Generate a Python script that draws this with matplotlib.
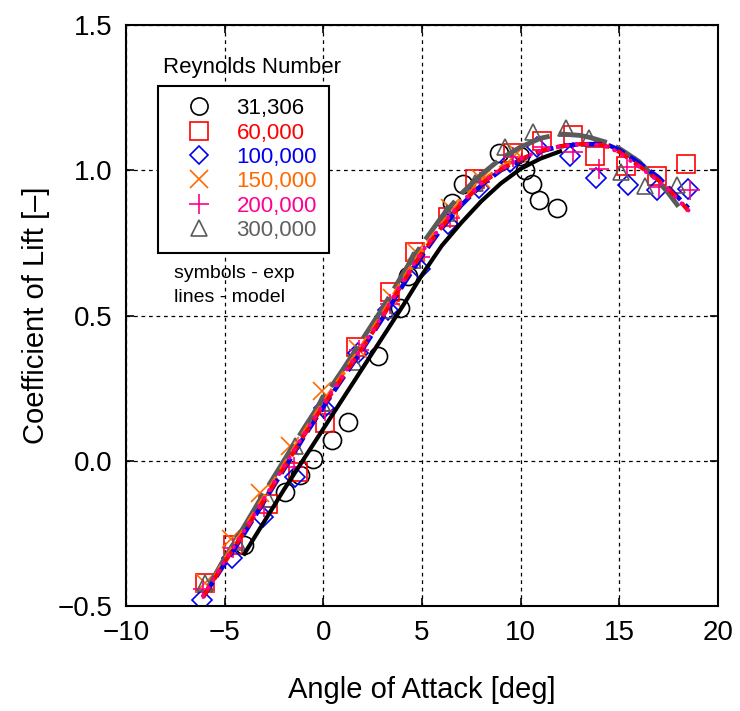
import matplotlib
matplotlib.use("Agg")
import matplotlib.pyplot as plt
from matplotlib.lines import Line2D

plt.rcParams['font.family'] = ['Liberation Sans', 'DejaVu Sans']

# ---------------- experimental data ----------------
re_labels = ["31,306", "60,000", "100,000", "150,000", "200,000", "300,000"]

x_31k = [-4.0, -1.95, -1.2, -0.5, 0.42, 1.23, 2.75, 3.87, 4.3, 6.5, 7.1, 8.92, 9.96, 10.2, 10.55, 10.95, 11.85]
y_31k = [-0.29, -0.107, -0.05, 0.005, 0.07, 0.134, 0.36, 0.525, 0.635, 0.888, 0.952, 1.058, 1.049, 1.0, 0.952, 0.897, 0.87]

x_60k = [-6.0, -4.57, -2.8, -1.28, 0.08, 1.68, 3.37, 4.64, 6.33, 7.68, 9.59, 11.06, 12.64, 13.75, 15.35, 16.9, 18.4]
y_60k = [-0.42, -0.29, -0.15, -0.04, 0.13, 0.39, 0.58, 0.72, 0.84, 0.97, 1.06, 1.10, 1.12, 1.05, 1.015, 0.98, 1.02]

x_100k = [-6.13, -4.62, -3.05, -1.45, 0.02, 1.75, 3.3, 4.88, 6.3, 7.9, 9.47, 10.85, 12.5, 13.82, 15.46, 16.9, 18.5]
y_100k = [-0.48, -0.335, -0.195, -0.055, 0.18, 0.37, 0.52, 0.66, 0.815, 0.94, 1.03, 1.08, 1.05, 0.975, 0.948, 0.932, 0.935]

x_150k = [-6.0, -4.66, -3.22, -1.7, -0.09, 1.77, 3.46, 4.69, 6.41, 8.0, 9.8]
y_150k = [-0.42, -0.27, -0.11, 0.05, 0.24, 0.385, 0.56, 0.72, 0.87, 0.97, 1.06]

x_200k = [-6.1, -4.6, -3.0, -1.5, 0.1, 1.8, 3.4, 4.9, 6.41, 7.94, 9.62, 11.1, 12.67, 13.99, 15.38, 17.03, 18.6]
y_200k = [-0.44, -0.3, -0.16, -0.02, 0.17, 0.38, 0.54, 0.70, 0.834, 0.96, 1.046, 1.08, 1.064, 1.006, 1.012, 0.941, 0.932]

x_300k = [-6.0, -4.4, -2.8, -1.45, -0.09, 1.55, 3.2, 4.55, 6.25, 7.68, 9.2, 10.64, 12.3, 13.48, 15.07, 16.3, 17.91]
y_300k = [-0.42, -0.28, -0.13, 0.05, 0.2, 0.34, 0.52, 0.69, 0.852, 0.955, 1.079, 1.133, 1.144, 1.11, 0.995, 0.945, 0.949]

# ---------------- model lines ----------------
xm_31k = [-4, -3, -2, -1, 0, 1, 2, 3, 4, 5, 6, 7, 8, 9, 10, 11, 12]
ym_31k = [-0.32, -0.21, -0.10, 0.005, 0.11, 0.215, 0.32, 0.425, 0.53, 0.64, 0.74, 0.82, 0.893, 0.955, 1.005, 1.04, 1.065]

xm_60k = [-6.1, -5, -4, -3, -2, -1, 0, 1, 2, 3, 4, 5, 6, 7, 8, 9, 10, 11, 12, 13, 14, 14.5, 15, 16, 17, 17.5, 18, 18.5]
ym_60k = [-0.47, -0.35, -0.245, -0.135, -0.025, 0.085, 0.19, 0.29, 0.39, 0.495, 0.61, 0.715, 0.805, 0.885, 0.952, 1.003, 1.038, 1.066, 1.082, 1.09, 1.088, 1.08, 1.063, 1.015, 0.965, 0.935, 0.9, 0.86]

xm_100k = [-6.1, -5, -4, -3, -2, -1, 0, 1, 2, 3, 4, 5, 6, 7, 8, 9, 10, 11, 12, 13, 14, 14.5, 15, 16, 17, 17.5, 18, 18.5]
ym_100k = [-0.47, -0.355, -0.25, -0.14, -0.03, 0.08, 0.185, 0.285, 0.385, 0.49, 0.6, 0.705, 0.8, 0.88, 0.948, 1.0, 1.036, 1.065, 1.082, 1.09, 1.09, 1.085, 1.07, 1.025, 0.975, 0.94, 0.905, 0.87]

xm_150k = [-6.0, -5, -4, -3, -2, -1, 0, 1, 2, 3, 4, 5, 6, 7, 8, 9, 10]
ym_150k = [-0.46, -0.34, -0.235, -0.125, -0.015, 0.095, 0.2, 0.3, 0.4, 0.505, 0.62, 0.725, 0.815, 0.895, 0.96, 1.01, 1.045]

xm_200k = [-6.1, -5, -4, -3, -2, -1, 0, 1, 2, 3, 4, 5, 6, 7, 8, 9, 10, 11, 12, 13, 14, 14.5, 15, 16, 17, 17.5, 18, 18.5]
ym_200k = [-0.465, -0.345, -0.24, -0.13, -0.02, 0.09, 0.195, 0.295, 0.395, 0.5, 0.615, 0.72, 0.81, 0.89, 0.955, 1.005, 1.04, 1.067, 1.083, 1.09, 1.087, 1.078, 1.06, 1.012, 0.962, 0.932, 0.897, 0.862]

xm_300k = [-5.8, -5, -4, -3, -2, -1, 0, 1, 2, 3, 4, 5, 6, 7, 8, 9, 10, 11, 12, 13, 13.5, 14.4, 15, 16, 17, 17.5, 18]
ym_300k = [-0.43, -0.335, -0.225, -0.11, 0.0, 0.11, 0.215, 0.315, 0.42, 0.525, 0.64, 0.745, 0.84, 0.92, 0.985, 1.04, 1.08, 1.11, 1.125, 1.12, 1.113, 1.095, 1.075, 1.03, 0.96, 0.92, 0.875]

colors = ["#000000", "#ff0000", "#0000ee", "#ff6a00", "#ff0088", "#5a5a5a"]
label_colors = ["#000000", "#ff0000", "#0000ee", "#ff6a00", "#ff0090", "#606060"]
markers = ["o", "s", "D", "x", "+", "^"]
msizes = [13, 13, 10, 13, 15, 12]

exp_x = [x_31k, x_60k, x_100k, x_150k, x_200k, x_300k]
exp_y = [y_31k, y_60k, y_100k, y_150k, y_200k, y_300k]

fig = plt.figure(figsize=(7.4, 7.11), dpi=100)
ax = fig.add_axes([126/740, 1-606/711, 592/740, 581/711])

# experimental symbols
for i in range(6):
    ax.plot(exp_x[i], exp_y[i], linestyle="none", marker=markers[i], ms=msizes[i],
            mfc="none", mec=colors[i], mew=1.2, zorder=2)

# model lines
ax.plot(xm_300k, ym_300k, color=colors[5], lw=3.5, dashes=(10, 2), zorder=3)
ax.plot(xm_150k, ym_150k, color=colors[3], lw=3, dashes=(3, 2), zorder=3)
ax.plot(xm_100k, ym_100k, color=colors[2], lw=3.2, dashes=(4, 1.5), zorder=4)
ax.plot(xm_60k, ym_60k, color=colors[1], lw=3, dashes=(3, 2), zorder=4)
ax.plot(xm_200k, ym_200k, color=colors[4], lw=3, dashes=(0.1, 2.2), dash_capstyle="round", zorder=5)
ax.plot(xm_31k, ym_31k, color=colors[0], lw=3, zorder=5)

ax.set_xlim(-10, 20)
ax.set_ylim(-0.5, 1.5)
ax.set_xticks([-10, -5, 0, 5, 10, 15, 20])
ax.set_yticks([-0.5, 0.0, 0.5, 1.0, 1.5])
ax.set_yticklabels(["\u22120.5", "0.0", "0.5", "1.0", "1.5"])
ax.grid(True, color="black", linestyle=(0, (3, 3)), linewidth=0.9)
ax.set_axisbelow(True)
ax.tick_params(direction="in", length=6, width=1.2, labelsize=20, pad=10,
               top=True, right=True)
for s in ax.spines.values():
    s.set_linewidth(1.5)

ax.set_xlabel("Angle of Attack [deg]", fontsize=21, labelpad=22)
ax.set_ylabel("Coefficient of Lift [\u2013]", fontsize=21, labelpad=5)

# legend
handles = [Line2D([], [], linestyle="none", marker=markers[i], ms=msizes[i] * 0.95,
                  mfc="none", mec=colors[i], mew=1.2) for i in range(6)]
leg = ax.legend(handles, re_labels, loc="upper left", bbox_to_anchor=(0.054, 0.895),
                fontsize=16, labelcolor=label_colors, frameon=True, fancybox=False,
                edgecolor="black", framealpha=1, borderpad=0.55, labelspacing=0.15,
                handlelength=2.6, handletextpad=0.38, borderaxespad=0)
leg.get_frame().set_linewidth(1.5)

ax.text(0.212, 0.926, "Reynolds Number", transform=ax.transAxes, fontsize=16,
        ha="center", va="center")
ax.text(0.081, 0.572, "symbols - exp", transform=ax.transAxes, fontsize=14,
        ha="left", va="center")
ax.text(0.081, 0.531, "lines - model", transform=ax.transAxes, fontsize=14,
        ha="left", va="center")

fig.savefig("out.png", dpi=100)
